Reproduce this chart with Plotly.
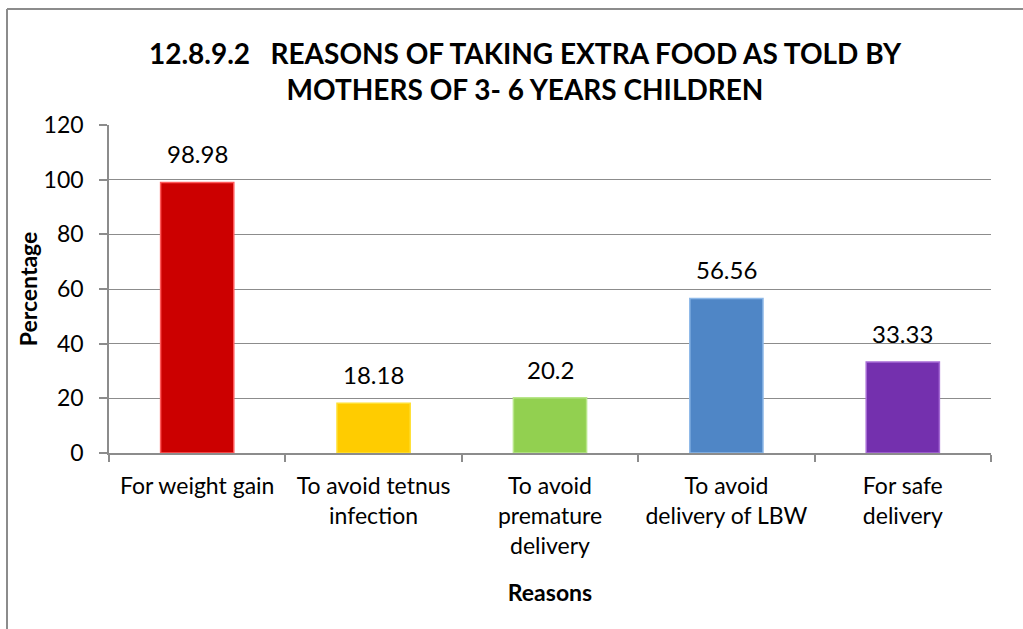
import plotly.graph_objects as go

# ---- data ----
categories = [
    "For weight gain",
    "To avoid tetnus<br>infection",
    "To avoid<br>premature<br>delivery",
    "To avoid<br>delivery of LBW",
    "For safe<br>delivery",
]
values = [98.98, 18.18, 20.2, 56.56, 33.33]
value_labels = ["98.98", "18.18", "20.2", "56.56", "33.33"]
y_ticks = [0, 20, 40, 60, 80, 100, 120]

bar_colors = ["#CC0000", "#FFCC00", "#92D050", "#4F86C6", "#7430AE"]
edge_colors = ["#FF5A5A", "#FFE033", "#B8E68A", "#8DB8E8", "#A66BD6"]

FONT = "Lato, Calibri, Carlito, sans-serif"
W, H = 1023, 629
ML, MR, MT, MB = 109, 32, 125, 176
PW, PH = W - ML - MR, H - MT - MB

fig = go.Figure()
fig.add_trace(go.Bar(
    x=categories,
    y=values,
    marker=dict(color=bar_colors, line=dict(color=edge_colors, width=1.5)),
    hoverinfo="x+y",
    showlegend=False,
))

for c, v, t in zip(categories, values, value_labels):
    fig.add_annotation(x=c, y=v, text=t, showarrow=False, xref="x", yref="y",
                       yanchor="bottom", yshift=12,
                       font=dict(family=FONT, size=24, color="#000000"))


def px_to_paper_x(px):
    return (px - ML) / PW


def px_to_paper_y(py):
    return (H - MB - py) / PH


# chart-area border (only top and left visible in the reference)
border = dict(color="#8C8C8C", width=2)
fig.add_shape(type="line", xref="paper", yref="paper",
              x0=px_to_paper_x(7), x1=px_to_paper_x(7),
              y0=px_to_paper_y(9), y1=px_to_paper_y(H + 5), line=border)
fig.add_shape(type="line", xref="paper", yref="paper",
              x0=px_to_paper_x(7), x1=px_to_paper_x(W + 5),
              y0=px_to_paper_y(9), y1=px_to_paper_y(9), line=border)

fig.update_layout(
    width=W, height=H,
    margin=dict(l=ML, r=MR, t=MT, b=MB, pad=0),
    paper_bgcolor="white", plot_bgcolor="white",
    bargap=0.585,
    title=dict(
        text="12.8.9.2   REASONS OF TAKING EXTRA FOOD AS TOLD BY<br>MOTHERS OF 3- 6 YEARS CHILDREN",
        x=px_to_paper_x(525), xanchor="center", xref="paper",
        y=1 - 64 / H, yanchor="middle",
        font=dict(family=FONT, size=28, color="#000000", weight="bold"),
    ),
    font=dict(family=FONT, size=23, color="#000000"),
)

fig.update_xaxes(
    type="category",
    showline=True, linecolor="#8C8C8C", linewidth=1.5,
    ticks="outside", ticklen=7, tickcolor="#8C8C8C", tickwidth=1.5,
    tickson="boundaries",
    ticklabelstandoff=12,
    showgrid=False,
    tickfont=dict(family=FONT, size=23, color="#000000"),
    title=dict(text="<b>Reasons</b>", font=dict(family=FONT, size=23, color="#000000"), standoff=27),
)
fig.update_yaxes(
    range=[0, 120],
    tickvals=y_ticks,
    showline=True, linecolor="#8C8C8C", linewidth=1.5,
    ticks="outside", ticklen=8, tickcolor="#8C8C8C", tickwidth=1.5,
    ticklabelstandoff=11,
    showgrid=True, gridcolor="#8C8C8C", gridwidth=1,
    zeroline=False,
    tickfont=dict(family=FONT, size=23, color="#000000"),
    title=dict(text="<b>Percentage</b>", font=dict(family=FONT, size=23, color="#000000"), standoff=0),
)

fig.write_html("out.html", config={"displayModeBar": False},
               post_script="document.body.style.margin='0px';")
